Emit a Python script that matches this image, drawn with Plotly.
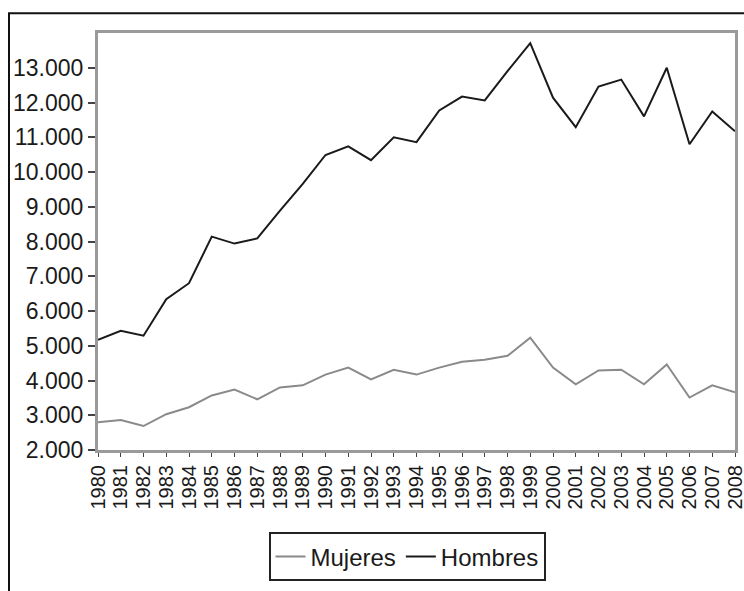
import plotly.graph_objects as go

years = list(range(1980, 2009))
year_labels = [str(y) for y in years]
mujeres = [2800, 2860, 2690, 3030, 3230, 3570, 3740, 3460, 3800, 3860,
           4170, 4370, 4030, 4310, 4170, 4370, 4540, 4600, 4710, 5230,
           4370, 3890, 4290, 4310, 3890, 4460, 3510, 3860, 3660]
hombres = [5170, 5430, 5290, 6340, 6800, 8140, 7940, 8090, 8890, 9660,
           10490, 10740, 10340, 11000, 10860, 11770, 12170, 12060, 12900, 13710,
           12140, 11290, 12460, 12660, 11600, 13000, 10800, 11740, 11170]
y_ticks = list(range(2000, 14000, 1000))

L, R, T, B = 98, 9, 33, 138
W, H = 744, 591
pw, ph = W - L - R, H - T - B

def px_x(x):
    return (x - L) / pw

def px_y(y):
    return (H - B - y) / ph

fig = go.Figure()
fig.add_trace(go.Scatter(x=years, y=mujeres, name="Mujeres", mode="lines",
                         line=dict(color="#8a8a8a", width=2)))
fig.add_trace(go.Scatter(x=years, y=hombres, name="Hombres", mode="lines",
                         line=dict(color="#1a1a1a", width=2)))

font = "Liberation Sans, Arial, sans-serif"
fig.update_layout(
    width=W, height=H,
    margin=dict(l=L, r=R, t=T, b=B, pad=0),
    paper_bgcolor="white", plot_bgcolor="white",
    separators=",.",
    showlegend=True,
    font=dict(family=font, color="#222222"),
    xaxis=dict(range=[1980, 2008], tickvals=years, ticktext=year_labels,
               tickangle=-90, tickfont=dict(size=20, family=font, color="#1a1a1a"),
               ticklabeloverflow="allow",
               showgrid=False, zeroline=False, showline=True, mirror=True,
               linecolor="#9a9a9a", linewidth=3, ticks="outside", ticklen=4,
               tickcolor="#444", tickwidth=1, automargin=False),
    yaxis=dict(range=[2000, 14000], tickvals=y_ticks, tickformat=",d",
               tickfont=dict(size=23, family=font, color="#1a1a1a"),
               ticklabeloverflow="allow",
               showgrid=False, zeroline=False, showline=True, mirror=True,
               linecolor="#9a9a9a", linewidth=3, ticks="outside", ticklen=7,
               tickcolor="#444", tickwidth=1.5, automargin=False),
    legend=dict(orientation="h", x=px_x(407), xanchor="center",
                y=px_y(536), yanchor="top",
                bordercolor="#222", borderwidth=2, bgcolor="white",
                font=dict(size=24, family=font, color="#1a1a1a")),
    shapes=[dict(type="rect", xref="paper", yref="paper",
                 x0=px_x(9), x1=px_x(760), y0=px_y(600), y1=px_y(13),
                 line=dict(color="#111", width=2), fillcolor="rgba(0,0,0,0)",
                 layer="below")],
)

fig.write_html("out.html", config={"displayModeBar": False},
               post_script="document.body.style.margin='0';document.body.style.padding='0';")
